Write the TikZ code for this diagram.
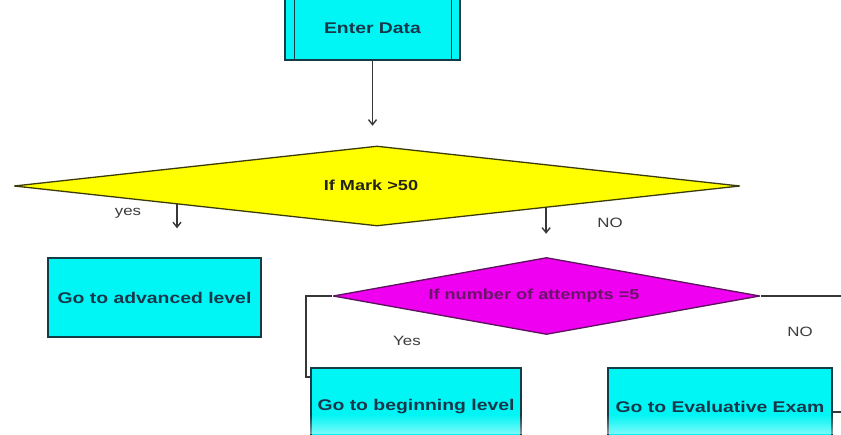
\documentclass[tikz,border=0pt]{standalone}
\usepackage{fontspec}
\setmainfont[FakeStretch=1.25]{Liberation Sans}
\usetikzlibrary{shapes.geometric,calc,arrows.meta}
\definecolor{cyanfill}{RGB}{0,245,245}
\definecolor{boxline}{RGB}{20,60,70}
\definecolor{boxtext}{RGB}{25,55,75}
\definecolor{ylw}{RGB}{255,255,0}
\definecolor{ylwline}{RGB}{60,60,10}
\definecolor{ylwtext}{RGB}{35,35,20}
\definecolor{mag}{RGB}{240,0,240}
\definecolor{magline}{RGB}{90,20,90}
\definecolor{magtext}{RGB}{105,20,105}
\definecolor{connc}{RGB}{55,55,55}
\definecolor{lblc}{RGB}{60,60,60}
\begin{document}
\begin{tikzpicture}[x=1pt,y=-1pt,
  procbox/.style={draw=boxline, line width=1.5pt, fill=cyanfill, rectangle, inner sep=0pt, text=boxtext, font=\fontsize{15.5}{18}\selectfont\bfseries},
  decision/.style={diamond, line width=1.3pt, line join=bevel, inner sep=0pt, font=\fontsize{14.5}{17}\selectfont\bfseries},
  conn/.style={draw=connc, line width=1.4pt},
  arr/.style={conn, -{Straight Barb[length=5pt,width=8pt]}},
  lbl/.style={text=lblc, font=\fontsize{13.5}{16}\selectfont}]
\useasboundingbox (0,0) rectangle (841,434);
\fill[white] (0,0) rectangle (841,434);
\clip (0,0) rectangle (841,434);

% Enter Data (predefined process)
\node[procbox, minimum width=175pt, minimum height=64pt] (enter) at (372.5,28) {Enter Data};
\draw[boxline, line width=1.4pt] ($(enter.north west)+(10,0)$) -- ($(enter.south west)+(10,0)$);
\draw[boxline, line width=1.4pt] ($(enter.north east)+(-9,0)$) -- ($(enter.south east)+(-9,0)$);

% decisions
\node[decision, draw=ylwline, fill=ylw, text=ylwtext, minimum width=726pt, minimum height=80pt] (d1) at (377,186) {};
\node[text=ylwtext, font=\fontsize{14.5}{17}\selectfont\bfseries] (t1) at (371,185) {If Mark >50};
\node[decision, draw=magline, fill=mag, text=magtext, minimum width=427pt, minimum height=77pt] (d2) at (546.5,296) {};
\node[text=magtext, font=\fontsize{14.5}{17}\selectfont\bfseries] (t2) at (534,296) {If number of attempts =5};

% process boxes
\node[procbox, minimum width=213pt, minimum height=79pt] (adv) at (154.5,297.5) {Go to advanced level};
\node[procbox, minimum width=210pt, minimum height=80pt] (beg) at (416,408) {};
\node[text=boxtext, font=\fontsize{15.5}{18}\selectfont\bfseries] (begt) at (416,407) {Go to beginning level};
\node[procbox, minimum width=224pt, minimum height=80pt] (eva) at (720,408) {};
\node[text=boxtext, font=\fontsize{15.5}{18}\selectfont\bfseries] (evat) at (720,407) {Go to Evaluative Exam};

% connectors
\coordinate (a1) at ($(enter.south)+(0,65)$);
\draw[arr] (enter.south) -- (a1);

\coordinate (ys) at ($(d1.west)!0.45!(d1.south)$);
\coordinate (ye) at ($(ys)+(0,24)$);
\draw[arr] (ys) -- (ye);
\coordinate (ns) at ($(d1.east)!0.535!(d1.south)$);
\coordinate (ne) at ($(ns)+(0,26)$);
\draw[arr] (ns) -- (ne);

\coordinate (lc) at (306,377);
\draw[conn] (d2.west) -| (lc) -- (lc -| beg.west);
\coordinate (rc) at (852,412);
\draw[conn] (d2.east) -| (rc) -- (rc -| eva.east);

% labels
\node[lbl] (lyes) at (128,213) {yes};
\node[lbl] (lno) at (610,223) {NO};
\node[lbl] (lYes) at (407,341) {Yes};
\node[lbl] (lno2) at (800,332) {NO};

% bottom fade
\foreach \i in {0,...,9} {
  \fill[white, opacity=0.05*\i] (0,414+2*\i) rectangle (841,416+2*\i);
}
\end{tikzpicture}
\end{document}
